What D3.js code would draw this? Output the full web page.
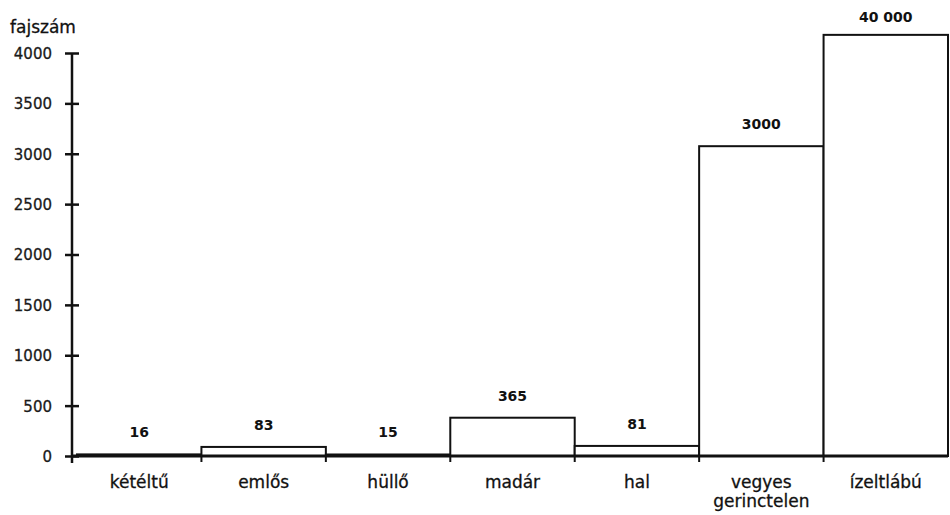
<!DOCTYPE html>
<html>
<head>
<meta charset="utf-8">
<script src="https://cdn.jsdelivr.net/npm/d3@7"></script>
<style>
  html, body { margin: 0; padding: 0; background: #fff; }
  svg { display: block; }
</style>
</head>
<body>
<script>
// ---- data ----
const categories = ["kétéltű", "emlős", "hüllő", "madár", "hal", "vegyes gerinctelen", "ízeltlábú"];
const valueLabels = ["16", "83", "15", "365", "81", "3000", "40 000"];
// bar heights as drawn in the picture (the last bar is truncated at the top of the chart)
const drawnHeights = [16, 90, 15, 380, 100, 3075, 4180];
const yTicks = [0, 500, 1000, 1500, 2000, 2500, 3000, 3500, 4000];
const yTitle = "fajszám";

// ---- layout ----
const W = 950, H = 515;
const svg = d3.select("body").append("svg").attr("width", W).attr("height", H);

const y = d3.scaleLinear().domain([0, 4000]).range([456, 53]);
const x = d3.scaleBand().domain(categories).range([77, 948]).padding(0);
const axisX = 72;
const ink = "#111";
const font = "DejaVu Sans, Verdana, sans-serif";

// bars
svg.append("g").selectAll("rect")
  .data(categories)
  .join("rect")
  .attr("x", (d) => x(d))
  .attr("width", x.bandwidth())
  .attr("y", (d, i) => y(drawnHeights[i]))
  .attr("height", (d, i) => y(0) - y(drawnHeights[i]))
  .attr("fill", "#fff")
  .attr("stroke", ink)
  .attr("stroke-width", 2);

// x axis baseline
svg.append("line")
  .attr("x1", axisX).attr("x2", 948)
  .attr("y1", y(0)).attr("y2", y(0))
  .attr("stroke", ink).attr("stroke-width", 3);

// x boundary ticks below the baseline
const bounds = categories.slice(1).map((c) => x(c));
svg.append("g").selectAll("line")
  .data(bounds)
  .join("line")
  .attr("x1", (d) => d).attr("x2", (d) => d)
  .attr("y1", y(0)).attr("y2", y(0) + 6)
  .attr("stroke", ink).attr("stroke-width", 2);

// y axis
const yAxis = d3.axisLeft(y).tickValues(yTicks).tickSize(0).tickPadding(20).tickFormat(d3.format("d"));
const gy = svg.append("g").attr("transform", `translate(${axisX},0)`).call(yAxis);
gy.select(".domain").remove();
gy.selectAll(".tick text")
  .attr("font-family", font).attr("font-size", 15).attr("fill", "#1a1a1a")
  .attr("stroke", "#1a1a1a").attr("stroke-width", 0.3)
  .attr("dy", "0.36em");
gy.selectAll(".tick").append("line")
  .attr("x1", -7).attr("x2", 7)
  .attr("stroke", ink).attr("stroke-width", 2.5);
svg.append("line")
  .attr("x1", axisX).attr("x2", axisX)
  .attr("y1", y(4000)).attr("y2", y(0) + 7)
  .attr("stroke", ink).attr("stroke-width", 2.5);

// y title
svg.append("text")
  .attr("x", 10).attr("y", 33)
  .attr("font-family", font).attr("font-size", 17).attr("fill", "#111")
  .attr("stroke", "#111").attr("stroke-width", 0.3)
  .text(yTitle);

// value labels
svg.append("g").selectAll("text")
  .data(categories)
  .join("text")
  .attr("x", (d) => x(d) + x.bandwidth() / 2)
  .attr("y", (d, i) => Math.max(y(drawnHeights[i]) - 17, 22))
  .attr("text-anchor", "middle")
  .attr("font-family", font).attr("font-size", 14).attr("font-weight", "bold")
  .attr("fill", "#111")
  .text((d, i) => valueLabels[i]);

// category labels (wrap multi-word "vegyes gerinctelen")
const catG = svg.append("g");
categories.forEach((c) => {
  const words = c === "vegyes gerinctelen" ? ["vegyes", "gerinctelen"] : [c];
  const t = catG.append("text")
    .attr("x", x(c) + x.bandwidth() / 2)
    .attr("y", 488)
    .attr("text-anchor", "middle")
    .attr("font-family", font).attr("font-size", 17).attr("fill", "#111")
    .attr("stroke", "#111").attr("stroke-width", 0.3);
  words.forEach((w, k) => {
    t.append("tspan")
      .attr("x", x(c) + x.bandwidth() / 2)
      .attr("dy", k === 0 ? 0 : 18.5)
      .text(w);
  });
});
</script>
</body>
</html>
